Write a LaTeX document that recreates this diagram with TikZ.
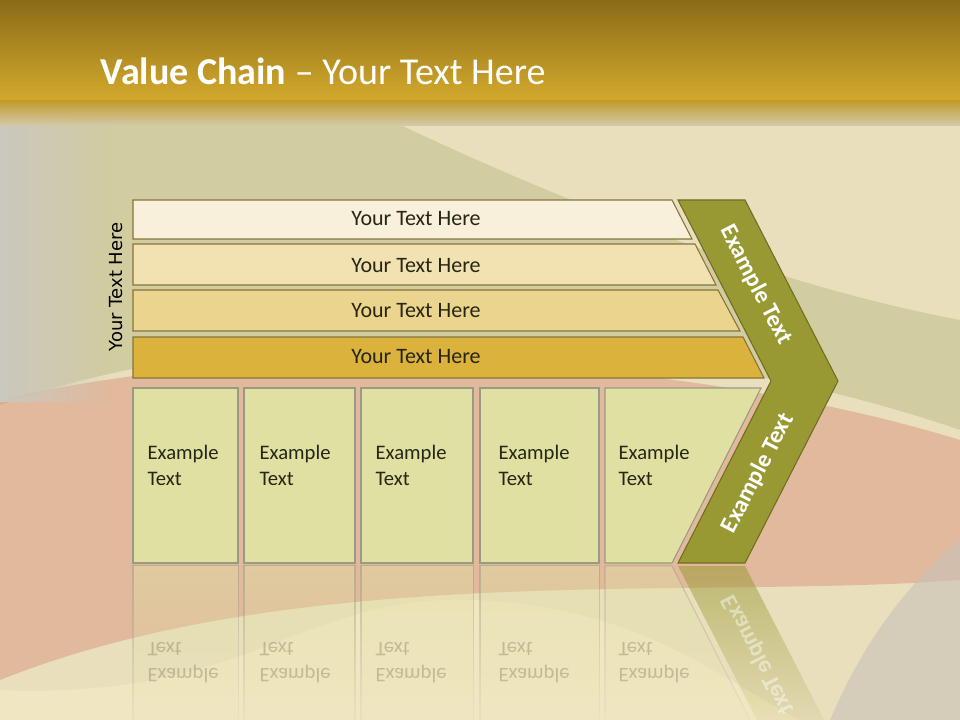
\documentclass[tikz,border=0pt]{standalone}
\usepackage{fontspec}
\setmainfont{Carlito}
\newfontfamily\sidefont{DejaVu Sans}
\usetikzlibrary{fadings}

\definecolor{paper}{HTML}{E9DFBD}
\definecolor{paperleft}{HTML}{CBC8BE}
\definecolor{khaki}{HTML}{BDBB86}
\definecolor{rustred}{HTML}{D98C74}
\definecolor{sand}{HTML}{F1E6C2}
\definecolor{stone}{HTML}{C9C2B8}
\definecolor{titletop}{HTML}{8A6C18}
\definecolor{titlegold}{HTML}{D3A92C}
\definecolor{barA}{HTML}{F8F0DA}
\definecolor{barB}{HTML}{F2E2B2}
\definecolor{barC}{HTML}{EBD48D}
\definecolor{barD}{HTML}{DBB23C}
\definecolor{boxfill}{HTML}{E0E0A3}
\definecolor{chev}{HTML}{999933}
\definecolor{chevline}{HTML}{6E6E22}
\definecolor{edge}{HTML}{85743A}
\definecolor{boxedge}{HTML}{9A9A82}
\definecolor{ink}{HTML}{262615}

\tikzset{
  bar/.style={draw=edge, line width=0.8pt},
  stage/.style={draw=boxedge, line width=0.8pt, fill=boxfill},
  bartext/.style={text=ink, font=\fontsize{16.5}{19}\selectfont},
  stagetext/.style={text=ink, anchor=west, align=left, inner sep=1pt, font=\fontsize{15.5}{19.5}\selectfont},
  armtext/.style={text=white, font=\bfseries\fontsize{18}{21}\selectfont},
  mirror/.style={stage, draw opacity=0.5, fill opacity=0.45, path fading=south},
}

\begin{document}
\begin{tikzpicture}[x=0.75pt, y=-0.75pt]
\useasboundingbox (0,0) rectangle (960,720);

% paper and its colour bands
\fill[paper] (0,0) rectangle (960,720);
\fill[khaki, opacity=0.5] (0,120) -- (390,120) .. controls (600,220) and (800,290) .. (960,320) -- (960,430) .. controls (700,340) and (300,300) .. (0,405) -- cycle;
\fill[rustred, opacity=0.45] (0,400) .. controls (300,330) and (700,360) .. (960,440) -- (960,580) .. controls (700,600) and (300,560) .. (0,680) -- cycle;
\fill[sand] (0,690) .. controls (250,700) and (300,595) .. (470,600) .. controls (640,605) and (720,680) .. (800,720) -- (0,720) -- cycle;
\fill[stone, opacity=0.6] (960,540) .. controls (900,590) and (860,650) .. (830,720) -- (960,720) -- cycle;
\fill[paperleft, path fading=east] (0,110) rectangle (110,402);

% title band
\fill[top color=titletop, bottom color=titlegold] (0,0) rectangle (960,100);
\fill[top color=titlegold, bottom color=paper, opacity=0.9] (0,100) rectangle (960,126);
\node[anchor=base west, text=white, font=\fontsize{28.5}{32}\selectfont] (title) at (96,85) {\textbf{Value Chain} -- Your Text Here};

% layers
\draw[bar, fill=barA] (133,200) -- (672,200) -- (692,239) -- (133,239) -- cycle;
\draw[bar, fill=barB] (133,244) -- (695,244) -- (716,285) -- (133,285) -- cycle;
\draw[bar, fill=barC] (133,290) -- (718,290) -- (740,331) -- (133,331) -- cycle;
\draw[bar, fill=barD] (133,337) -- (743,337) -- (764,378) -- (133,378) -- cycle;
\node[bartext] (layerA) at (416,219) {Your Text Here};
\node[bartext] (layerB) at (416,266) {Your Text Here};
\node[bartext] (layerC) at (416,311) {Your Text Here};
\node[bartext] (layerD) at (416,357) {Your Text Here};
\node[rotate=90, font=\sidefont\fontsize{13.5}{15}\selectfont] (side) at (116,287) {Your Text Here};

% stages
\draw[stage] (133,388) rectangle (238,563);
\draw[stage] (244,388) rectangle (355,563);
\draw[stage] (361,388) rectangle (473,563);
\draw[stage] (480,388) rectangle (599,563);
\draw[stage] (605,388) -- (761,388) -- (672,563) -- (605,563) -- cycle;
\node[stagetext] (stageA) at (146,465) {Example\\Text};
\node[stagetext] (stageB) at (258,465) {Example\\Text};
\node[stagetext] (stageC) at (374,465) {Example\\Text};
\node[stagetext] (stageD) at (497,465) {Example\\Text};
\node[stagetext] (stageE) at (617,465) {Example\\Text};

% chevron
\draw[fill=chev, draw=chevline, line width=0.8pt] (678,200) -- (745,200) -- (838,381) -- (745,563) -- (678,563) -- (771,381) -- cycle;
\node[armtext, rotate=-62.7] (armup) at (756,285) {Example Text};
\node[armtext, rotate=62.7] (armdown) at (758,473) {Example Text};

% reflection
\fill[mirror] (133,566) rectangle (238,742);
\fill[mirror] (244,566) rectangle (355,742);
\fill[mirror] (361,566) rectangle (473,742);
\fill[mirror] (480,566) rectangle (599,742);
\fill[mirror] (605,566) -- (672,566) -- (761,742) -- (605,742) -- cycle;
\fill[chev, opacity=0.55, path fading=south] (678,566) -- (745,566) -- (838,747) -- (771,747) -- cycle;
\node[stagetext, yscale=-1, opacity=0.22] (echoA) at (146,663) {Example\\Text};
\node[stagetext, yscale=-1, opacity=0.22] (echoB) at (258,663) {Example\\Text};
\node[stagetext, yscale=-1, opacity=0.22] (echoC) at (374,663) {Example\\Text};
\node[stagetext, yscale=-1, opacity=0.22] (echoD) at (497,663) {Example\\Text};
\node[stagetext, yscale=-1, opacity=0.22] (echoE) at (617,663) {Example\\Text};
\node[armtext, rotate=-62.7, yscale=-1, opacity=0.45] (armecho) at (758,655) {Example Text};
\end{tikzpicture}
\end{document}
